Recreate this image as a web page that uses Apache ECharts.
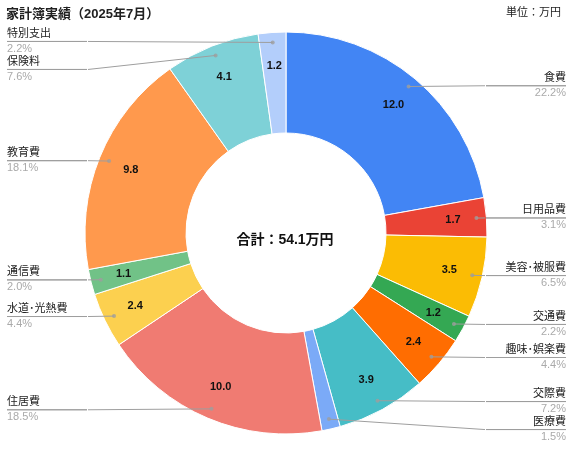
<!DOCTYPE html>
<html><head><meta charset="utf-8">
<script src="https://cdn.jsdelivr.net/npm/echarts@6/dist/echarts.min.js"></script>
<style>html,body{margin:0;padding:0;background:#fff}#c{width:577px;height:455px}</style>
</head><body><div id="c"></div>
<script>
const titleText = '家計簿実績（2025年7月）';
const unitText = '単位：万円';
const categories = ['食費','日用品費','美容･被服費','交通費','趣味･娯楽費','交際費','医療費','住居費','水道･光熱費','通信費','教育費','保険料','特別支出'];
const values = [12.0, 1.7, 3.5, 1.2, 2.4, 3.9, 0.8, 10.0, 2.4, 1.1, 9.8, 4.1, 1.2];
const colors = ['#4285F4','#EA4335','#FBBC04','#34A853','#FF6D01','#46BDC6','#7BAAF7','#F07B72','#FCD04F','#71C287','#FF994D','#7ED1D7','#B3CEFB'];

const FONT = "Arial, 'Liberation Sans', 'Noto Sans CJK JP', sans-serif";
const total = values.reduce((a, b) => a + b, 0);
const CENTER = [286, 233];
const R_OUT = 201, R_IN = 100;

const baseData = categories.map((n, i) => ({ name: n, value: values[i], itemStyle: { color: colors[i] } }));
const clearData = categories.map((n, i) => ({ name: n, value: values[i] }));
// dot positions at slice mid-angle (in data units)
let cum = 0;
const dotData = values.map(v => { const m = cum + v / 2; cum += v; return [1, m]; });

const chart = echarts.init(document.getElementById('c'), null, { renderer: 'canvas' });
chart.setOption({
  animation: false,
  textStyle: { fontFamily: FONT },
  title: [
    { text: titleText, left: 6, top: 8, padding: 0,
      textStyle: { fontSize: 13, fontWeight: 'bold', color: '#212121', fontFamily: FONT } },
    { text: unitText, right: 16, top: 7, padding: 0,
      textStyle: { fontSize: 11, fontWeight: 'normal', color: '#212121', fontFamily: FONT } }
  ],
  graphic: [{
    type: 'text', x: 285, y: 240, silent: true,
    style: { text: '合計：' + total.toFixed(1) + '万円', fill: '#111', font: 'bold 14px ' + FONT,
      textAlign: 'center', textVerticalAlign: 'middle' }
  }],
  polar: { center: CENTER, radius: 191 },
  angleAxis: { type: 'value', min: 0, max: total, startAngle: 90, clockwise: true, show: false },
  radiusAxis: { type: 'value', min: 0, max: 1, show: false },
  series: [
    {
      type: 'pie', center: CENTER, radius: [R_IN, R_OUT], startAngle: 90, clockwise: true,
      silent: true, z: 1,
      itemStyle: { borderColor: '#fff', borderWidth: 1 },
      label: { show: false }, labelLine: { show: false },
      data: baseData
    },
    {
      type: 'pie', center: CENTER, radius: [128, R_OUT], startAngle: 90, clockwise: true,
      silent: true, z: 3,
      itemStyle: { color: 'rgba(0,0,0,0)' },
      emphasis: { disabled: true },
      label: {
        show: true, position: 'inside', fontSize: 11, fontWeight: 'bold', color: '#111', fontFamily: FONT,
        formatter: p => p.value >= 1 ? p.value.toFixed(1) : ''
      },
      labelLine: { show: false },
      data: clearData
    },
    {
      type: 'pie', center: CENTER, radius: [0, 191], startAngle: 90, clockwise: true,
      left: 0, top: 0, width: 573, height: 455,
      silent: true, z: 4,
      itemStyle: { color: 'rgba(0,0,0,0)' },
      emphasis: { disabled: true },
      label: {
        show: true, position: 'outer', alignTo: 'edge', edgeDistance: 7, distanceToLabelLine: 0,
        formatter: p => '{n|' + p.name + '}\n{hr|}\n{p|' + (p.value / total * 100).toFixed(1) + '%}',
        rich: {
          n: { fontSize: 11, color: '#222', lineHeight: 12, fontFamily: FONT },
          hr: { width: 80, height: 0, lineHeight: 3, borderColor: '#9e9e9e', borderWidth: 1 },
          p: { fontSize: 11, color: '#aaa', lineHeight: 12, fontFamily: FONT }
        }
      },
      labelLine: { show: true, length: 1, length2: 5, minTurnAngle: 0, maxSurfaceAngle: 180,
        lineStyle: { color: '#9e9e9e', width: 1 } },
      labelLayout: function (p) {
        const pts = p.labelLinePoints;
        if (!pts) return {};
        return { labelLinePoints: [pts[0], pts[2], pts[2]] };
      },
      data: clearData
    },
    {
      type: 'scatter', coordinateSystem: 'polar', symbol: 'circle', symbolSize: 4, silent: true, z: 5,
      itemStyle: { color: '#9e9e9e' },
      data: dotData
    }
  ]
});
</script>
</body></html>
